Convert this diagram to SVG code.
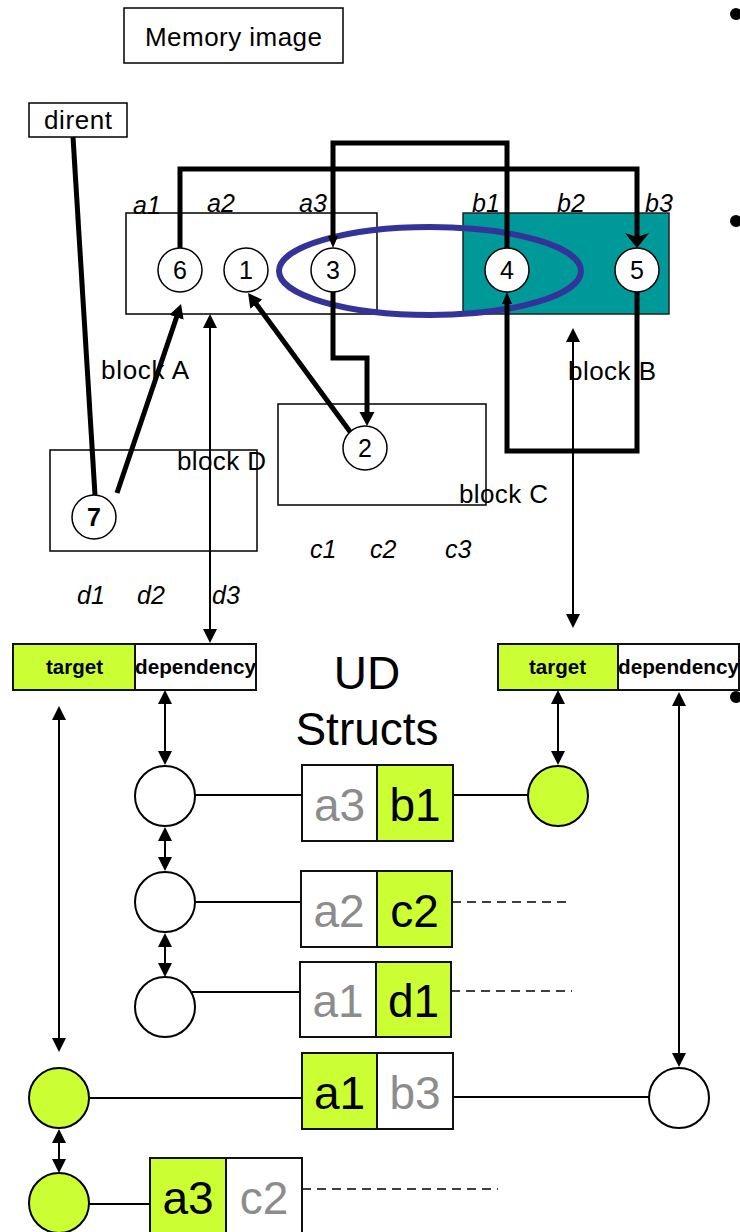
<svg xmlns="http://www.w3.org/2000/svg" width="740" height="1232" viewBox="0 0 740 1232">
<defs>
<style>
text{font-family:"Liberation Sans",Arial,sans-serif;fill:#000}
.box{fill:#fff;stroke:#000;stroke-width:1.5}
.lbl{font-size:26px}
.it{font-size:25px;font-style:italic}
.num{font-size:25px;text-anchor:middle}
.nc{fill:#fff;stroke:#000;stroke-width:1.5}
.thick{fill:none;stroke:#000;stroke-width:5;stroke-linejoin:miter}
.thin{fill:none;stroke:#000;stroke-width:2}
.dash{fill:none;stroke:#000;stroke-width:1.6;stroke-dasharray:9 6}
.sb{stroke:#111;stroke-width:2}
.g{fill:#ccff33}
.w{fill:#fff}
.big{font-size:46px;text-anchor:middle}
.gray{fill:#8c8c8c}
.hdr{font-size:20px;font-weight:bold}
.sc{stroke:#000;stroke-width:2}
</style>
<marker id="ahL" markerUnits="userSpaceOnUse" viewBox="0 -12 16 24" markerWidth="16" markerHeight="24" refX="9" refY="0" orient="auto"><path d="M0,-12 L15,0 L0,12 L4,0 z" fill="#000"/></marker>
<marker id="ahM" markerUnits="userSpaceOnUse" viewBox="0 -8 14 16" markerWidth="14" markerHeight="16" refX="8" refY="0" orient="auto"><path d="M0,-7.5 L14,0 L0,7.5 z" fill="#000"/></marker>
<marker id="ahS" markerUnits="userSpaceOnUse" viewBox="0 -5 12 10" markerWidth="12" markerHeight="10" refX="5" refY="0" orient="auto"><path d="M0,-5 L12,0 L0,5 z" fill="#000"/></marker>
<marker id="ahT" markerUnits="userSpaceOnUse" viewBox="0 -7 14 14" markerWidth="14" markerHeight="14" refX="11" refY="0" orient="auto-start-reverse"><path d="M0,-7 L14,0 L0,7 z" fill="#000"/></marker>
</defs>
<rect width="740" height="1232" fill="#fff"/>

<g id="memory-image"><rect class="box" x="124" y="8" width="219" height="55"/><text class="lbl" x="145" y="46" textLength="177">Memory image</text></g>
<g id="dirent"><rect class="box" x="29" y="103" width="98" height="34"/><text class="lbl" x="44" y="129" textLength="68">dirent</text></g>

<g id="block-A"><rect class="box" x="126" y="213" width="251" height="101"/><text class="lbl" x="101" y="379" textLength="88">block A</text></g>
<g id="block-B"><rect x="463" y="213" width="206" height="101" fill="#009999" stroke="#222" stroke-width="1.5"/><text class="lbl" x="568" y="380" textLength="88">block B</text></g>
<g id="block-C"><rect class="box" x="278" y="404" width="208" height="101"/><text class="lbl" x="459" y="503" textLength="89">block C</text></g>
<g id="block-D"><rect class="box" x="50" y="450" width="207" height="101"/><text class="lbl" x="177" y="470" textLength="89">block D</text></g>

<g id="offset-labels">
<text class="it" x="133" y="214">a1</text><text class="it" x="207" y="212">a2</text><text class="it" x="299" y="212">a3</text>
<text class="it" x="472" y="212">b1</text><text class="it" x="557" y="212">b2</text><text class="it" x="645" y="212">b3</text>
<text class="it" x="310" y="558">c1</text><text class="it" x="370" y="558">c2</text><text class="it" x="445" y="558">c3</text>
<text class="it" x="77" y="604">d1</text><text class="it" x="137" y="604">d2</text><text class="it" x="212" y="604">d3</text>
</g>

<g id="set-ellipse"><ellipse cx="430" cy="271" rx="151" ry="44" fill="none" stroke="#333399" stroke-width="6"/></g>

<g id="connectors">
<path class="thick" d="M73,137 L95,495"/>
<path class="thick" d="M180,248 V169 H637 V242" marker-end="url(#ahL)"/>
<path class="thick" d="M507,248 V143 H333 V241" marker-end="url(#ahS)"/>
<path class="thick" d="M333,292 V358 H367 V420" marker-end="url(#ahM)"/>
<path class="thick" d="M637,292 V451 H507 V299" marker-end="url(#ahS)"/>
<path class="thick" d="M351,433 L251.6,297.8" marker-end="url(#ahM)"/>
<path class="thick" d="M117,493 L179.1,309.7" marker-end="url(#ahM)"/>
<path class="thin" d="M210,317 V640" marker-start="url(#ahT)" marker-end="url(#ahT)"/>
<path class="thin" d="M573,331 V625" marker-start="url(#ahT)" marker-end="url(#ahT)"/>
<path class="thin" d="M165,693 V762" marker-start="url(#ahT)" marker-end="url(#ahT)"/>
<path class="thin" d="M558,693 V762" marker-start="url(#ahT)" marker-end="url(#ahT)"/>
<path class="thin" d="M165,830 V868" marker-start="url(#ahT)" marker-end="url(#ahT)"/>
<path class="thin" d="M165,936 V974" marker-start="url(#ahT)" marker-end="url(#ahT)"/>
<path class="thin" d="M59,709 V1049" marker-start="url(#ahT)" marker-end="url(#ahT)"/>
<path class="thin" d="M679,695 V1064" marker-start="url(#ahT)" marker-end="url(#ahT)"/>
<path class="thin" d="M59,1132 V1170" marker-start="url(#ahT)" marker-end="url(#ahT)"/>
<path class="thin" d="M195,795 H302"/>
<path class="thin" d="M453,795 H528"/>
<path class="thin" d="M195,902 H301"/>
<path class="thin" d="M192,992 H300"/>
<path class="thin" d="M89,1098 H302"/>
<path class="thin" d="M453,1097 H649"/>
<path class="thin" d="M89,1204 H150"/>
<path class="dash" d="M452,902 H572"/>
<path class="dash" d="M451,991 H572"/>
<path class="dash" d="M302,1189 H498"/>
</g>

<g id="node-6"><circle class="nc" cx="180" cy="270" r="22"/><text class="num" x="180" y="279">6</text></g>
<g id="node-1"><circle class="nc" cx="246" cy="270" r="22"/><text class="num" x="246" y="279">1</text></g>
<g id="node-3"><circle class="nc" cx="333" cy="270" r="22"/><text class="num" x="333" y="279">3</text></g>
<g id="node-4"><circle class="nc" cx="507" cy="270" r="22"/><text class="num" x="507" y="279">4</text></g>
<g id="node-5"><circle class="nc" cx="637" cy="270" r="22"/><text class="num" x="637" y="279">5</text></g>
<g id="node-2"><circle class="nc" cx="365" cy="448" r="22"/><text class="num" x="365" y="457">2</text></g>
<g id="node-7"><circle class="nc" cx="94" cy="517" r="22"/><text class="num" x="94" y="526" font-weight="bold" font-size="23">7</text></g>

<g id="ud-left"><rect class="sb g" x="13" y="644" width="122" height="46"/><rect class="sb w" x="135" y="644" width="121" height="46"/><text class="hdr" x="46" y="674" textLength="57" lengthAdjust="spacingAndGlyphs">target</text><text class="hdr" x="135" y="674" textLength="121" lengthAdjust="spacingAndGlyphs">dependency</text></g>
<g id="ud-right"><rect class="sb g" x="498" y="644" width="120" height="46"/><rect class="sb w" x="618" y="644" width="121" height="46"/><text class="hdr" x="529" y="674" textLength="57" lengthAdjust="spacingAndGlyphs">target</text><text class="hdr" x="618" y="674" textLength="121" lengthAdjust="spacingAndGlyphs">dependency</text></g>

<g id="ud-title"><text class="big" x="367" y="689">UD</text><text class="big" x="367" y="745">Structs</text></g>

<g id="struct-a3-b1"><rect class="sb w" x="302" y="765" width="75" height="76"/><rect class="sb g" x="377" y="765" width="76" height="76"/><text class="big gray" x="339.5" y="821">a3</text><text class="big" x="415" y="821">b1</text></g>
<g id="struct-a2-c2"><rect class="sb w" x="301" y="871" width="76" height="76"/><rect class="sb g" x="377" y="871" width="75" height="76"/><text class="big gray" x="339" y="927">a2</text><text class="big" x="414.5" y="927">c2</text></g>
<g id="struct-a1-d1"><rect class="sb w" x="300" y="962" width="76" height="75"/><rect class="sb g" x="376" y="962" width="75" height="75"/><text class="big gray" x="338" y="1017">a1</text><text class="big" x="413.5" y="1017">d1</text></g>
<g id="struct-a1-b3"><rect class="sb g" x="302" y="1053" width="75" height="76"/><rect class="sb w" x="377" y="1053" width="76" height="76"/><text class="big" x="339.5" y="1109">a1</text><text class="big gray" x="415" y="1109">b3</text></g>
<g id="struct-a3-c2"><rect class="sb g" x="150" y="1158" width="76" height="76"/><rect class="sb w" x="226" y="1158" width="76" height="76"/><text class="big" x="188" y="1214">a3</text><text class="big gray" x="264" y="1214">c2</text></g>

<g id="dep-node-1"><circle class="sc w" cx="165" cy="796" r="30"/></g>
<g id="dep-node-2"><circle class="sc w" cx="165" cy="902" r="30"/></g>
<g id="dep-node-3"><circle class="sc w" cx="165" cy="1007" r="30"/></g>
<g id="tgt-node-b1"><circle class="sc g" cx="558" cy="796" r="30"/></g>
<g id="tgt-node-a1"><circle class="sc g" cx="59" cy="1098" r="30"/></g>
<g id="tgt-node-a3"><circle class="sc g" cx="59" cy="1203" r="30"/></g>
<g id="dep-node-b3"><circle class="sc w" cx="679" cy="1098" r="30"/></g>

<g id="bullets"><circle cx="736" cy="14" r="6" fill="#000"/><circle cx="736" cy="221" r="6" fill="#000"/><circle cx="736" cy="697" r="6" fill="#000"/></g>
</svg>
